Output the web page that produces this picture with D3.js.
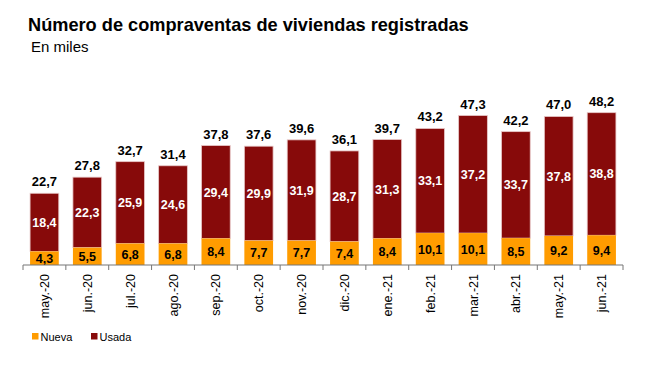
<!DOCTYPE html>
<html>
<head>
<meta charset="utf-8">
<script src="https://cdn.jsdelivr.net/npm/d3@7"></script>
<style>
  body { margin: 0; background: #fff; }
  svg { display: block; font-family: "Liberation Sans", Arial, sans-serif; }
</style>
</head>
<body>
<svg id="chart" width="657" height="365"></svg>
<script>
const months = ['may.-20', 'jun.-20', 'jul.-20', 'ago.-20', 'sep.-20', 'oct.-20', 'nov.-20',
    'dic.-20', 'ene.-21', 'feb.-21', 'mar.-21', 'abr.-21', 'may.-21', 'jun.-21'];
const nueva = [4.3, 5.5, 6.8, 6.8, 8.4, 7.7, 7.7, 7.4, 8.4, 10.1, 10.1, 8.5, 9.2, 9.4];
const usada = [18.4, 22.3, 25.9, 24.6, 29.4, 29.9, 31.9, 28.7, 31.3, 33.1, 37.2, 33.7, 37.8, 38.8];
const totales = [22.7, 27.8, 32.7, 31.4, 37.8, 37.6, 39.6, 36.1, 39.7, 43.2, 47.3, 42.2, 47.0, 48.2];

const colors = { nueva: '#FF9C00', usada: '#870A0A' };
const fmt = v => v.toFixed(1).replace('.', ',');

const svg = d3.select('#chart');

const x = d3.scaleBand()
    .domain(months)
    .range([23, 623])
    .paddingInner(0.33)
    .paddingOuter(0.165);

const y = d3.scaleLinear()
    .domain([0, 60])
    .range([265, 75.4]);

// title
svg.append('text')
    .attr('x', 28).attr('y', 31)
    .style('font-size', '18.2px').style('font-weight', 'bold')
    .text('Número de compraventas de viviendas registradas');

svg.append('text')
    .attr('x', 31).attr('y', 52)
    .style('font-size', '15px')
    .text('En miles');

const rows = months.map((m, i) => ({ m, nueva: nueva[i], usada: usada[i], total: totales[i] }));

const g = svg.selectAll('.mes')
    .data(rows)
    .join('g')
    .attr('class', 'mes')
    .attr('transform', d => `translate(${x(d.m)},0)`);

g.append('rect')
    .attr('width', x.bandwidth())
    .attr('y', d => y(d.nueva + d.usada))
    .attr('height', d => y(d.nueva) - y(d.nueva + d.usada))
    .style('fill', colors.usada)
    .style('stroke', '#e8c8c8')
    .style('stroke-width', 0.8);

g.append('rect')
    .attr('width', x.bandwidth())
    .attr('y', d => y(d.nueva))
    .attr('height', d => y(0) - y(d.nueva))
    .style('fill', colors.nueva);

// labels
g.append('text')
    .attr('x', x.bandwidth() / 2)
    .attr('y', d => y(d.nueva / 2) + 4.5)
    .attr('text-anchor', 'middle')
    .style('font-size', '12.5px').style('font-weight', 'bold')
    .style('fill', '#000')
    .text(d => fmt(d.nueva));

g.append('text')
    .attr('x', x.bandwidth() / 2)
    .attr('y', d => y(d.nueva + d.usada / 2) + 4.5)
    .attr('text-anchor', 'middle')
    .style('font-size', '12.5px').style('font-weight', 'bold')
    .style('fill', '#fff')
    .text(d => fmt(d.usada));

g.append('text')
    .attr('x', x.bandwidth() / 2)
    .attr('y', d => y(d.nueva + d.usada) - 7)
    .attr('text-anchor', 'middle')
    .style('font-size', '13px').style('font-weight', 'bold')
    .style('fill', '#000')
    .text(d => fmt(d.total));

// x axis
const axis = svg.append('g');
axis.append('line')
    .attr('x1', 23).attr('x2', 623)
    .attr('y1', y(0)).attr('y2', y(0))
    .style('stroke', '#777').style('stroke-width', 1.2);

const edges = months.map(m => x(m) - x.step() * x.paddingInner() / 2).concat([623]);
axis.selectAll('.tick')
    .data(edges)
    .join('line')
    .attr('x1', d => d).attr('x2', d => d)
    .attr('y1', y(0)).attr('y2', y(0) + 5)
    .style('stroke', '#777');

axis.selectAll('.lbl')
    .data(months)
    .join('text')
    .attr('transform', d => `translate(${x(d) + x.bandwidth() / 2 + 4.5},${y(0) + 9}) rotate(-90)`)
    .attr('text-anchor', 'end')
    .style('font-size', '12.5px')
    .text(d => d);

// legend
const legend = [['Nueva', colors.nueva, 32], ['Usada', colors.usada, 91]];
const lg = svg.selectAll('.leg')
    .data(legend)
    .join('g')
    .attr('transform', d => `translate(${d[2]},333)`);
lg.append('rect').attr('width', 6.5).attr('height', 6.5).style('fill', d => d[1]);
lg.append('text').attr('x', 8.5).attr('y', 7.5)
    .style('font-size', '11px').text(d => d[0]);
</script>
</body>
</html>
